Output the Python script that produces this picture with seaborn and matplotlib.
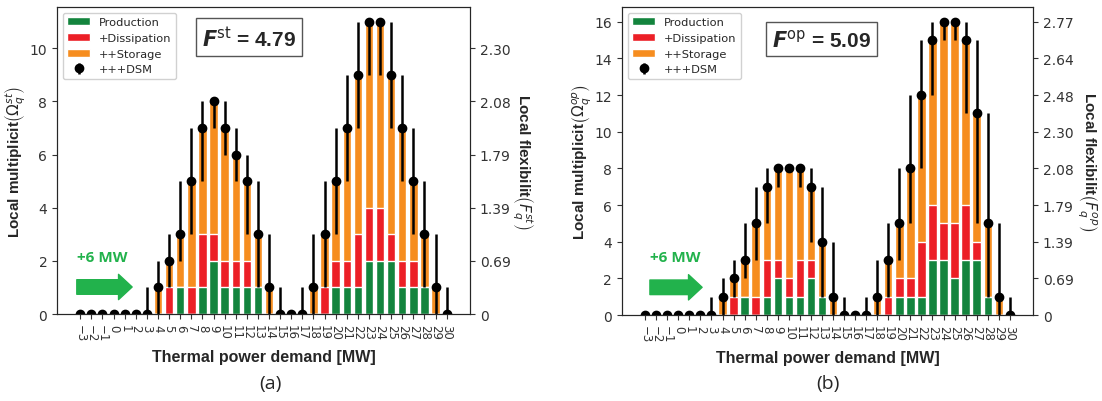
import numpy as np
import pandas as pd
import matplotlib
matplotlib.use('Agg')
import matplotlib.pyplot as plt
import seaborn as sns
from matplotlib.patches import Patch

sns.set_style('ticks')
plt.rcParams['font.family'] = ['DejaVu Sans']

# --- data ---
demand = list(range(-3, 31))

# panel (a): static multiplicity
prod_a = [0, 0, 0, 0, 0, 0, 0, 0, 0, 1, 0, 1, 2, 1, 1, 1, 1, 0, 0, 0, 0,
          0, 0, 1, 1, 1, 2, 2, 2, 1, 1, 1, 0, 0]
diss_a = [0, 0, 0, 0, 0, 0, 0, 0, 1, 1, 1, 3, 3, 2, 2, 2, 1, 0, 0, 0, 0,
          0, 1, 2, 2, 3, 4, 4, 3, 2, 2, 1, 0, 0]
stor_a = [0, 0, 0, 0, 0, 0, 0, 1, 2, 3, 5, 7, 8, 7, 6, 5, 3, 1, 0, 0, 0,
          1, 3, 5, 7, 9, 11, 11, 9, 7, 5, 3, 1, 0]
dsm_a = [0, 0, 0, 0, 0, 0, 0, 1, 2, 3, 5, 7, 8, 7, 6, 5, 3, 1, 0, 0, 0,
         1, 3, 5, 7, 9, 11, 11, 9, 7, 5, 3, 1, 0]
lo_a = [0, 0, 0, 0, 0, 0, 0, 0, 1, 2, 3, 5, 7, 6, 5, 3, 1, 0, 0, 0, 0,
        0, 1, 3, 5, 7, 9, 9, 7, 5, 3, 1, 0, 0]
hi_a = [0, 0, 0, 0, 0, 0, 1, 2, 3, 5, 7, 8, 8, 8, 7, 6, 5, 3, 1, 0, 1,
        3, 5, 7, 9, 11, 11, 11, 11, 9, 7, 5, 3, 1]
right_ticks_a = [0, 2, 4, 6, 8, 10]
right_labels_a = ['0', '0.69', '1.39', '1.79', '2.08', '2.30']

# panel (b): operational multiplicity
prod_b = [0, 0, 0, 0, 0, 0, 0, 0, 0, 1, 0, 1, 2, 1, 1, 2, 1, 0, 0, 0, 0,
          0, 0, 1, 1, 1, 3, 3, 2, 3, 3, 1, 0, 0]
diss_b = [0, 0, 0, 0, 0, 0, 0, 0, 1, 1, 1, 3, 3, 2, 3, 3, 1, 0, 0, 0, 0,
          0, 1, 2, 2, 4, 6, 5, 5, 6, 4, 1, 0, 0]
stor_b = [0, 0, 0, 0, 0, 0, 0, 1, 2, 3, 5, 7, 8, 8, 8, 7, 4, 1, 0, 0, 0,
          1, 3, 5, 8, 12, 15, 16, 16, 15, 11, 5, 1, 0]
dsm_b = [0, 0, 0, 0, 0, 0, 0, 1, 2, 3, 5, 7, 8, 8, 8, 7, 4, 1, 0, 0, 0,
         1, 3, 5, 8, 12, 15, 16, 16, 15, 11, 5, 1, 0]
lo_b = [0, 0, 0, 0, 0, 0, 0, 0, 1, 2, 3, 5, 7, 8, 7, 4, 1, 0, 0, 0, 0,
        0, 1, 3, 5, 8, 12, 15, 15, 11, 5, 1, 0, 0]
hi_b = [0, 0, 0, 0, 0, 0, 1, 2, 3, 5, 7, 8, 8, 8, 8, 8, 7, 4, 1, 0, 1,
        3, 5, 8, 12, 15, 16, 16, 16, 16, 15, 11, 5, 1]
right_ticks_b = [0, 2, 4, 6, 8, 10, 12, 14, 16]
right_labels_b = ['0', '0.69', '1.39', '1.79', '2.08', '2.30', '2.48', '2.64', '2.77']

GREEN = '#13843d'
RED = '#ec1f26'
ORANGE = '#f68d1f'
ARROW_GREEN = '#22b24c'
LABEL_FONT = 'Liberation Sans'

tick_text = [str(d).replace('-', '\u2212') for d in demand]


def draw_panel(ax, prod, diss, stor, dsm, lo, hi, rticks, rlabels, ymax,
               sup, fval, box_x, box_y, arrow_x, arrow_y, text_y):
    df = pd.DataFrame({'demand': demand, 'prod': prod, 'diss': diss, 'stor': stor})
    # overlay the cumulative layers, largest first
    for col, c in [('stor', ORANGE), ('diss', RED), ('prod', GREEN)]:
        sns.barplot(data=df, x='demand', y=col, native_scale=True, orient='x',
                    color=c, saturation=1, width=0.76, errorbar=None, ax=ax)
    dsm = np.array(dsm)
    yerr = [dsm - np.array(lo), np.array(hi) - dsm]
    eb = ax.errorbar(demand, dsm, yerr=yerr, fmt='o', color='black', ms=6,
                     elinewidth=1.8, capsize=0, zorder=3)

    ax.set_xlim(-5.1, 32.1)
    ax.set_ylim(0, ymax)
    ax.set_yticks(rticks)
    ax.set_xticks(demand)
    ax.set_xticklabels(tick_text, rotation=270, fontsize=8.5)
    ax.tick_params(axis='y', labelsize=10, colors='#333333')
    ax.tick_params(axis='x', colors='#333333')
    ax.set_xlabel('Thermal power demand [MW]', fontsize=11.5, fontweight='bold',
                  family=LABEL_FONT, labelpad=6)
    ax.set_ylabel('Local multiplicit' + r'$\left(\mathit{\Omega}_q^{%s}\right)$' % sup,
                  fontsize=11, fontweight='bold', family=LABEL_FONT, labelpad=1)

    ax2 = ax.twinx()
    ax2.set_ylim(ax.get_ylim())
    ax2.set_yticks(rticks)
    ax2.set_yticklabels(rlabels)
    ax2.tick_params(axis='y', labelsize=10, colors='#333333')
    ax2.set_ylabel('Local flexibilit' + r'$\left(F_q^{%s}\right)$' % sup,
                   fontsize=11, fontweight='bold', family=LABEL_FONT,
                   rotation=270, labelpad=18)

    handles = [Patch(facecolor=GREEN), Patch(facecolor=RED), Patch(facecolor=ORANGE), eb]
    ax.legend(handles, ['Production', '+Dissipation', '++Storage', '+++DSM'],
              loc='upper left', fontsize=8.2, framealpha=0.9)

    ax.text(box_x, box_y, r'$\mathbfit{F}^{\mathrm{%s}}$' % sup + ' = ' + fval,
            transform=ax.transAxes, ha='center', va='center', fontsize=15,
            fontweight='bold', family=LABEL_FONT,
            bbox=dict(boxstyle='square,pad=0.3', fc='white', ec='#555555', lw=1))

    # +6 MW shift arrow
    ax.annotate('', xy=(arrow_x[1], arrow_y), xytext=(arrow_x[0], arrow_y),
                xycoords='axes fraction',
                arrowprops=dict(arrowstyle='simple,head_length=0.7,head_width=1.3,tail_width=0.75',
                                mutation_scale=14, color=ARROW_GREEN, shrinkA=0, shrinkB=0))
    ax.text(arrow_x[0], text_y, '+6 MW', transform=ax.transAxes, color=ARROW_GREEN,
            fontweight='bold', fontsize=11, family='Open Sans', va='center')


fig = plt.figure(figsize=(11.02, 4.02), dpi=100)
ax_a = fig.add_axes([0.0517, 0.2164, 0.3748, 0.7637])
ax_b = fig.add_axes([0.5644, 0.2139, 0.3730, 0.7660])

draw_panel(ax_a, prod_a, diss_a, stor_a, dsm_a, lo_a, hi_a, right_ticks_a, right_labels_a,
           11.55, 'st', '4.79', 0.465, 0.902, (0.048, 0.182), 0.088, 0.186)
draw_panel(ax_b, prod_b, diss_b, stor_b, dsm_b, lo_b, hi_b, right_ticks_b, right_labels_b,
           16.8, 'op', '5.09', 0.485, 0.896, (0.068, 0.195), 0.09, 0.188)

fig.text(0.245, 0.045, '(a)', ha='center', va='center', fontsize=14, family='Open Sans')
fig.text(0.751, 0.045, '(b)', ha='center', va='center', fontsize=14, family='Open Sans')

plt.savefig('out.png', dpi=100)
